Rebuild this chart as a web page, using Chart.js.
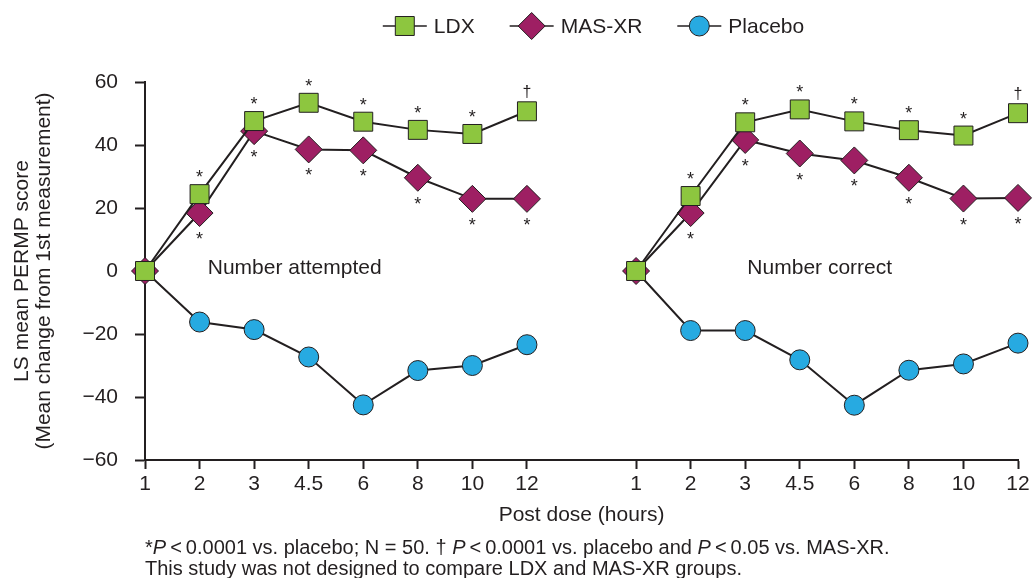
<!DOCTYPE html>
<html><head><meta charset="utf-8">
<script src="https://cdn.jsdelivr.net/npm/chart.js@4"></script>
<style>
html,body{margin:0;padding:0;background:#fff;}
#wrap{position:relative;width:1034px;height:578px;overflow:hidden;}
#note{position:absolute;left:145px;top:537px;font:20px "Liberation Sans",Arial,sans-serif;line-height:20.5px;color:#231f20;white-space:nowrap;}
</style></head><body>
<div id="wrap"><canvas id="c" width="1034" height="578"></canvas>
<div id="note">*<i>P</i>&thinsp;&lt;&thinsp;0.0001 vs. placebo; N = 50. † <i>P</i>&thinsp;&lt;&thinsp;0.0001 vs. placebo and <i>P</i>&thinsp;&lt;&thinsp;0.05 vs. MAS-XR.<br>This study was not designed to compare LDX and MAS-XR groups.</div></div>
<script>
// ---- data ----
const hours = ['1','2','3','4.5','6','8','10','12'];
const panelLabels = ['Number attempted','Number correct'];
const attemptedLDX = [0,24.4,47.6,53.4,47.4,44.8,43.5,50.7];
const attemptedMAS = [0,18.4,44.4,38.6,38.3,29.6,22.9,22.9];
const attemptedPlacebo = [0,-16.2,-18.6,-27.3,-42.5,-31.6,-30.0,-23.4];
const correctLDX = [0,23.8,47.2,51.3,47.5,44.7,43.0,50.1];
const correctMAS = [0,18.4,41.6,37.3,35.1,29.6,23.0,23.2];
const correctPlacebo = [0,-18.9,-18.9,-28.2,-42.6,-31.5,-29.5,-22.9];
const ldxSig = ['','*','*','*','*','*','*','\u2020'];
const masSig = ['','*','*','*','*','*','*','*'];
const yMin = -60, yMax = 60, yStep = 20;

// ---- build ----
const FAM = '"Liberation Sans", Arial, Helvetica, sans-serif';
const INK = '#231f20';
const labels = [...hours, '', ...hours];
const join = (a, b) => [...a, null, ...b];
const ldxMarks = [...ldxSig, '', ...ldxSig];
const masMarks = [...masSig, '', ...masSig];

const legendPlugin = {
  id: 'customLegend',
  afterDraw(chart) {
    const ctx = chart.ctx;
    const items = chart.data.datasets;
    ctx.save();
    ctx.font = '21px ' + FAM;
    const lineW = 44, gapText = 7, gapItem = 35;
    const widths = items.map(d => ctx.measureText(d.label).width);
    let total = gapItem * (items.length - 1);
    widths.forEach(w => total += lineW + gapText + w);
    const ca = chart.chartArea;
    let x = (ca.left + ca.right) / 2 + 12 - total / 2;
    const y = 26;
    items.forEach((d, i) => {
      ctx.strokeStyle = INK; ctx.lineWidth = 1.5;
      ctx.beginPath(); ctx.moveTo(x, y); ctx.lineTo(x + lineW, y); ctx.stroke();
      ctx.fillStyle = d.pointBackgroundColor; ctx.strokeStyle = INK; ctx.lineWidth = 1;
      Chart.helpers.drawPoint(ctx, {pointStyle: d.pointStyle, radius: d.pointRadius, borderWidth: 1, rotation: 0}, x + lineW / 2, y);
      ctx.fillStyle = INK; ctx.textBaseline = 'middle'; ctx.textAlign = 'left';
      ctx.fillText(d.label, x + lineW + gapText, y + 1);
      x += lineW + gapText + widths[i] + gapItem;
    });
    ctx.restore();
  }
};

const sigPlugin = {
  id: 'sig',
  afterDatasetsDraw(chart) {
    const ctx = chart.ctx;
    ctx.save();
    ctx.fillStyle = INK; ctx.textAlign = 'center'; ctx.textBaseline = 'alphabetic';
    const ldx = chart.getDatasetMeta(0).data, mas = chart.getDatasetMeta(1).data;
    ldx.forEach((p, i) => {
      const m = ldxMarks[i]; if (!m) return;
      if (m === '*') { ctx.font = '18px ' + FAM; ctx.fillText(m, p.x, p.y - 21 + 10); }
      else { ctx.font = '16px ' + FAM; ctx.fillText(m, p.x, p.y - 19 + 5); }
    });
    ctx.font = '18px ' + FAM;
    mas.forEach((p, i) => {
      const m = masMarks[i]; if (!m) return;
      ctx.fillText(m, p.x, p.y + 22 + 10);
    });
    // panel labels
    const xs = chart.scales.x, ys = chart.scales.y;
    ctx.font = '21px ' + FAM; ctx.textAlign = 'left'; ctx.textBaseline = 'middle';
    ctx.fillText(panelLabels[0], xs.getPixelForValue(1.15), ys.getPixelForValue(0) - 3);
    ctx.fillText(panelLabels[1], xs.getPixelForValue(11.04), ys.getPixelForValue(0) - 3);
    ctx.restore();
  }
};

const tickCol = c => (labels[c.index] === '' ? 'rgba(0,0,0,0)' : INK);

new Chart(document.getElementById('c'), {
  type: 'line',
  data: {
    labels,
    datasets: [
      {label: 'LDX', data: join(attemptedLDX, correctLDX), pointStyle: 'rect', pointRadius: 13.4,
       pointBackgroundColor: '#8dc63f', pointBorderColor: INK, pointBorderWidth: 1,
       borderColor: INK, borderWidth: 2, tension: 0},
      {label: 'MAS-XR', data: join(attemptedMAS, correctMAS), pointStyle: 'rectRot', pointRadius: 13.5,
       pointBackgroundColor: '#9e1f63', pointBorderColor: INK, pointBorderWidth: 1,
       borderColor: INK, borderWidth: 2, tension: 0},
      {label: 'Placebo', data: join(attemptedPlacebo, correctPlacebo), pointStyle: 'circle', pointRadius: 10,
       pointBackgroundColor: '#27aae1', pointBorderColor: INK, pointBorderWidth: 1,
       borderColor: INK, borderWidth: 2, tension: 0}
    ]
  },
  options: {
    responsive: false, animation: false, events: [],
    layout: {padding: {top: 82, right: 16, bottom: 0, left: 0}},
    plugins: {legend: {display: false}, tooltip: {enabled: false}},
    scales: {
      x: {
        type: 'category', offset: false,
        grid: {drawOnChartArea: false, drawTicks: true, tickLength: 9, tickWidth: 2, tickColor: tickCol},
        border: {display: true, color: INK, width: 2},
        ticks: {autoSkip: false, maxRotation: 0, minRotation: 0, padding: 3, color: INK, font: {size: 21, family: FAM}},
        title: {display: true, text: 'Post dose (hours)', color: INK, font: {size: 21, family: FAM}, padding: {top: 0, bottom: 50}},
        afterFit(s) { s.height = 118; }
      },
      y: {
        min: yMin, max: yMax,
        grid: {drawOnChartArea: false, drawTicks: true, tickLength: 10, tickWidth: 2, tickColor: INK},
        border: {display: true, color: INK, width: 2},
        ticks: {stepSize: yStep, padding: 17, color: INK, font: {size: 21, family: FAM},
                callback: v => (v < 0 ? '\u2212' + (-v) : String(v))},
        title: {display: true, text: ['LS mean PERMP score', '(Mean change from 1st measurement)'], color: INK,
                font: {size: 21, family: FAM, lineHeight: 1.05}, padding: {top: 11, bottom: 0}},
        afterFit(s) { s.width = 145; }
      }
    }
  },
  plugins: [legendPlugin, sigPlugin]
});
</script>
</body></html>
